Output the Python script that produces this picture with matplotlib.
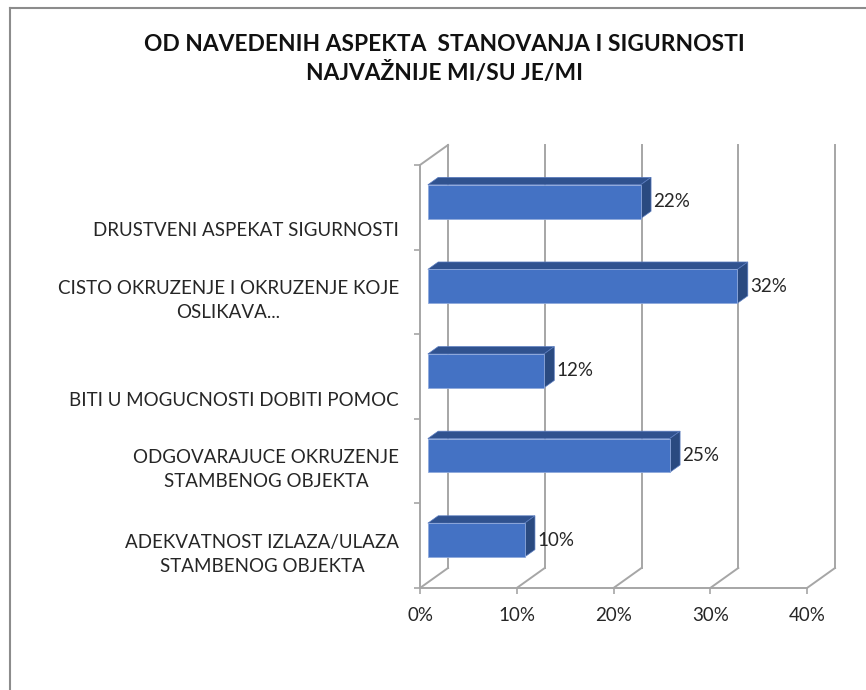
import matplotlib.pyplot as plt
from matplotlib.patches import Polygon
from matplotlib.lines import Line2D

categories = [
    "DRUSTVENI ASPEKAT SIGURNOSTI",
    "CISTO OKRUZENJE I OKRUZENJE KOJE\nOSLIKAVA...",
    "BITI U MOGUCNOSTI DOBITI POMOC",
    "ODGOVARAJUCE OKRUZENJE\nSTAMBENOG OBJEKTA",
    "ADEKVATNOST IZLAZA/ULAZA\nSTAMBENOG OBJEKTA",
]
values = [0.22, 0.32, 0.12, 0.25, 0.10]
xticks = [0.0, 0.1, 0.2, 0.3, 0.4]
xtick_labels = ["0%", "10%", "20%", "30%", "40%"]
title = "OD NAVEDENIH ASPEKTA  STANOVANJA I SIGURNOSTI\nNAJVAŽNIJE MI/SU JE/MI"

plt.rcParams["font.family"] = ["Lato", "DejaVu Sans"]

W, H = 866, 690
fig = plt.figure(figsize=(W / 100, H / 100), dpi=100)

# front plane of the 3d box, in pixels
fx0, fx1, fy0, fy1 = 420, 807, 165, 588
ax = fig.add_axes([fx0 / W, 1 - fy1 / H, (fx1 - fx0) / W, (fy1 - fy0) / H])
n = len(categories)
ax.set_xlim(0, 0.4)
ax.set_ylim(n - 0.5, -0.5)

# depth vector (28 px right, 20 px up) in data units
DX = 28 / (fx1 - fx0) * 0.4
DY = -20 / ((fy1 - fy0) / n)


def proj(v, c, d):
    return (v + d * DX, c + d * DY)


grid = "#a6a6a6"
lw = 1.4
top, bottom = -0.5, n - 0.5
txt = "#262626"
fs = 13.5

# back wall gridlines and floor diagonals
for t in xticks:
    p, q = proj(t, top, 1), proj(t, bottom, 1)
    ax.add_line(Line2D([p[0], q[0]], [p[1], q[1]], color=grid, lw=lw, clip_on=False, zorder=1))
    a = proj(t, bottom, 0)
    ax.add_line(Line2D([a[0], q[0]], [a[1], q[1]], color=grid, lw=lw, clip_on=False, zorder=1))
# floor front edge, left wall front edge and its top
a, b = proj(0, bottom, 0), proj(0.4, bottom, 0)
ax.add_line(Line2D([a[0], b[0]], [a[1], b[1]], color=grid, lw=lw, clip_on=False, zorder=1))
a, b = proj(0, top, 0), proj(0, bottom, 0)
ax.add_line(Line2D([a[0], b[0]], [a[1], b[1]], color=grid, lw=lw, clip_on=False, zorder=1))
b = proj(0, top, 1)
ax.add_line(Line2D([a[0], b[0]], [a[1], b[1]], color=grid, lw=lw, clip_on=False, zorder=1))

# bars
h = 0.4
d0, d1 = 0.28, 0.65
front_c, top_c, side_c = "#4472c4", "#30528f", "#2a4a80"
for i, v in enumerate(values):
    ax.barh(i + d0 * DY, v, height=h, left=d0 * DX, color=front_c,
            edgecolor="#8fa9dc", linewidth=0.6, zorder=3, clip_on=False)
    yt, yb = i - h / 2, i + h / 2
    top_face = [proj(0, yt, d0), proj(v, yt, d0), proj(v, yt, d1), proj(0, yt, d1)]
    side_face = [proj(v, yt, d0), proj(v, yb, d0), proj(v, yb, d1), proj(v, yt, d1)]
    ax.add_patch(Polygon(top_face, closed=True, facecolor=top_c, edgecolor="#5a7cc0",
                         lw=0.5, zorder=2, clip_on=False))
    ax.add_patch(Polygon(side_face, closed=True, facecolor=side_c, edgecolor="#5a7cc0",
                         lw=0.5, zorder=2, clip_on=False))
    ax.annotate(f"{v:.0%}", xy=proj(v, i + d0 * DY - d1 * DY, d1), xytext=(2, 0),
                textcoords="offset pixels", ha="left", va="center",
                fontsize=fs, color=txt, zorder=4, annotation_clip=False)

# category labels
for i, lab in enumerate(categories):
    off = 0.1 if "\n" in lab else 0.28
    ax.annotate(lab, xy=(0, i + off), xycoords=("axes fraction", "data"),
                xytext=(-21, 0), textcoords="offset pixels", ha="right", va="center",
                multialignment="center", fontsize=fs, color=txt,
                linespacing=1.5)

for s in ax.spines.values():
    s.set_visible(False)
ax.set_xticks(xticks)
ax.set_xticklabels(xtick_labels, fontsize=fs, color=txt)
ax.set_yticks([k - 0.5 for k in range(n + 1)])
ax.set_yticklabels([])
ax.tick_params(axis="both", color=grid, length=4.5, width=1.2)
ax.tick_params(axis="x", pad=9)
ax.patch.set_visible(False)

fig.text(0.5 * (147 + 741) / W, 1 - 59 / H, title, ha="center", va="center",
         fontsize=16.4, fontweight="bold", color="#111111", linespacing=1.4)

# chart border (top and left visible)
fig.add_artist(Line2D([10 / W, 1], [1 - 8 / H, 1 - 8 / H], color="#8c8c8c", lw=1.5))
fig.add_artist(Line2D([10 / W, 10 / W], [1 - 8 / H, 0], color="#8c8c8c", lw=1.5))

fig.savefig("out.png", dpi=100)
